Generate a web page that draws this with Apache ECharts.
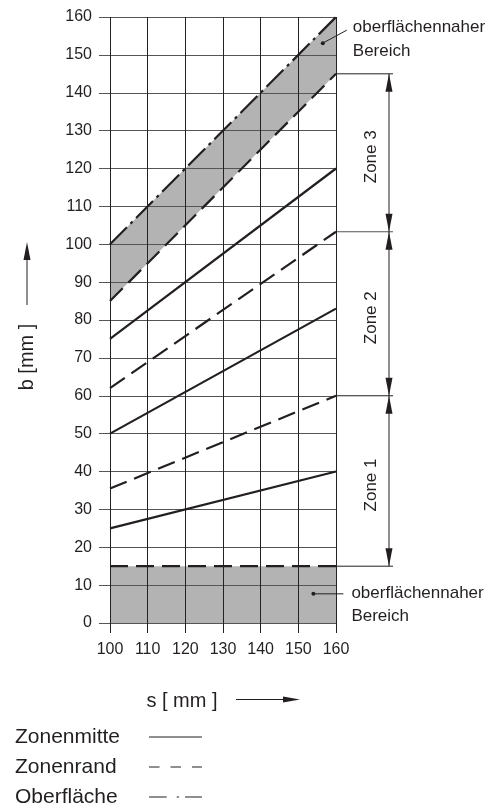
<!DOCTYPE html>
<html><head><meta charset="utf-8">
<script src="https://cdn.jsdelivr.net/npm/echarts@6/dist/echarts.min.js"></script>
<style>html,body{margin:0;padding:0;background:#fff}#c{width:496px;height:809px}</style>
</head><body><div id="c"></div>
<script>
// ---- data ----
const sRange = [100, 160];                 // s [mm]
const bRange = [0, 160];                   // b [mm]
const xTicks = [100, 110, 120, 130, 140, 150, 160];
const yTicks = [0, 10, 20, 30, 40, 50, 60, 70, 80, 90, 100, 110, 120, 130, 140, 150, 160];
// b at s=100 and s=160
const zonenmitte = [[25, 40], [50, 83], [75, 120]];
const zonenrand = [[35.5, 60], [62, 103.3], [85, 145]];
const oberflaeche = [100, 160];
const surfaceLevel = [15, 15];
const zoneBounds = [145, 103.3, 60, 15];
const zoneNames = ['Zone 3', 'Zone 2', 'Zone 1'];
const annoText = 'oberflächennaher\nBereich';
const annoPoints = [[156.5, 153.1], [154, 7.7]];
const legendNames = ['Zonenmitte', 'Zonenrand', 'Oberfläche'];
const yTitle = 'b [mm ]';
const xTitle = 's [ mm ]';

const FONT = "'Liberation Sans', Arial, sans-serif";
const INK = '#231f20';
const GRAY = '#b3b3b3';

const chart = echarts.init(document.getElementById('c'), null, {renderer: 'canvas'});

function seg(vals) { return [[sRange[0], vals[0]], [sRange[1], vals[1]]]; }
function lineSeries(vals, type, w) {
  return {
    type: 'line', data: seg(vals), symbol: 'none', silent: true, z: 3,
    lineStyle: {color: INK, width: w || 2.2, type: type}, animation: false
  };
}

const series = [
  {
    type: 'custom', z: 0, silent: true, animation: false,
    data: [[sRange[0], bRange[0]]],
    renderItem: function (params, api) {
      const band = [[sRange[0], oberflaeche[0]], [sRange[1], oberflaeche[1]],
                    [sRange[1], zonenrand[2][1]], [sRange[0], zonenrand[2][0]]].map(p => api.coord(p));
      const bottom = [[sRange[0], bRange[0]], [sRange[1], bRange[0]],
                      [sRange[1], surfaceLevel[1]], [sRange[0], surfaceLevel[0]]].map(p => api.coord(p));
      return {type: 'group', children: [
        {type: 'polygon', shape: {points: band}, style: {fill: GRAY}},
        {type: 'polygon', shape: {points: bottom}, style: {fill: GRAY}}
      ]};
    }
  }
];
zonenmitte.forEach(v => series.push(lineSeries(v, 'solid')));
zonenrand.forEach(v => series.push(lineSeries(v, [18, 8])));
series.push(lineSeries(surfaceLevel, [18, 8]));
series.push(lineSeries(oberflaeche, [24, 5, 3, 5]));

chart.setOption({
  animation: false,
  grid: {left: 110, top: 17, width: 226, height: 606},
  xAxis: {
    type: 'value', min: sRange[0], max: sRange[1], interval: 10, z: 1,
    axisLine: {show: false},
    axisTick: {show: true, length: 10, lineStyle: {color: '#222', width: 1}},
    axisLabel: {margin: 19, fontSize: 16, color: INK, fontFamily: FONT,
      formatter: v => xTicks.includes(v) ? String(v) : ''},
    splitLine: {show: true, lineStyle: {color: '#222', width: 1}}
  },
  yAxis: {
    type: 'value', min: bRange[0], max: bRange[1], interval: 10, z: 1,
    axisLine: {show: false},
    axisTick: {show: true, length: 11, lineStyle: {color: '#555', width: 1}},
    axisLabel: {margin: 18, fontSize: 16, color: INK, fontFamily: FONT,
      formatter: v => yTicks.includes(v) ? String(v) : ''},
    splitLine: {show: true, lineStyle: {color: '#555', width: 1}}
  },
  series: series
});

// ---- annotations placed through the chart's scales ----
const px = p => chart.convertToPixel({gridIndex: 0}, p);
const g = [];
const xRight = px([sRange[1], 0])[0];
const arrowX = xRight + 53;
const txt = (text, x, y, size, extra) => Object.assign({
  type: 'text', x: x, y: y, silent: true,
  style: Object.assign({text: text, fill: INK, font: size + 'px ' + FONT,
    align: 'left', verticalAlign: 'middle'}, extra || {})
}, {});
function arrowHead(tx, ty, dx, dy, len, wid) {
  // tip at (tx,ty), pointing in direction (dx,dy)
  const bx = tx - dx * len, by = ty - dy * len;
  const nx = -dy, ny = dx;
  return {type: 'polygon', silent: true, shape: {points: [[tx, ty], [bx + nx * wid / 2, by + ny * wid / 2], [bx - nx * wid / 2, by - ny * wid / 2]]},
    style: {fill: INK}};
}

zoneBounds.forEach((b, i) => {
  const y = px([sRange[1], b])[1];
  g.push({type: 'line', silent: true, shape: {x1: xRight, y1: y, x2: xRight + 57, y2: y},
    style: {stroke: i === 1 ? '#555' : INK, lineWidth: 1}});
});
zoneNames.forEach((name, i) => {
  const y1 = px([sRange[1], zoneBounds[i]])[1];
  const y2 = px([sRange[1], zoneBounds[i + 1]])[1];
  g.push({type: 'line', silent: true, shape: {x1: arrowX, y1: y1, x2: arrowX, y2: y2},
    style: {stroke: INK, lineWidth: 1}});
  g.push(arrowHead(arrowX, y1, 0, -1, 18, 7));
  g.push(arrowHead(arrowX, y2, 0, 1, 18, 7));
  g.push({type: 'text', silent: true, x: arrowX - 18, y: (y1 + y2) / 2 + 4, rotation: Math.PI / 2,
    style: {text: name, fill: INK, font: '17px ' + FONT, align: 'center', verticalAlign: 'middle'}});
});

// top annotation
(function () {
  const d = px(annoPoints[0]);
  g.push({type: 'circle', silent: true, shape: {cx: d[0], cy: d[1], r: 2}, style: {fill: INK}});
  g.push({type: 'line', silent: true, shape: {x1: d[0], y1: d[1], x2: d[0] + 24, y2: d[1] - 13},
    style: {stroke: INK, lineWidth: 1}});
  g.push(txt(annoText, d[0] + 30, d[1] - 4, 17, {lineHeight: 24}));
  const e = px(annoPoints[1]);
  g.push({type: 'circle', silent: true, shape: {cx: e[0], cy: e[1], r: 2}, style: {fill: INK}});
  g.push({type: 'line', silent: true, shape: {x1: e[0], y1: e[1], x2: e[0] + 30, y2: e[1]},
    style: {stroke: INK, lineWidth: 1}});
  g.push(txt(annoText, e[0] + 38, e[1] + 11, 17, {lineHeight: 23}));
})();

// axis titles
g.push({type: 'text', silent: true, x: 27, y: 357, rotation: Math.PI / 2,
  style: {text: yTitle, fill: INK, font: '20px ' + FONT, align: 'center', verticalAlign: 'middle'}});
g.push({type: 'line', silent: true, shape: {x1: 27, y1: 305, x2: 27, y2: 258}, style: {stroke: INK, lineWidth: 1}});
g.push(arrowHead(27, 242, 0, -1, 18, 7));
g.push({type: 'text', silent: true, x: 182, y: 701,
  style: {text: xTitle, fill: INK, font: '20px ' + FONT, align: 'center', verticalAlign: 'middle'}});
g.push({type: 'line', silent: true, shape: {x1: 236, y1: 699.5, x2: 285, y2: 699.5}, style: {stroke: INK, lineWidth: 1}});
g.push(arrowHead(300, 699.5, 1, 0, 17, 6));

// legend
const legDash = ['solid', [10.5, 11], [17.7, 10, 2.3, 6, 30]];
legendNames.forEach((n, i) => {
  const y = 737 + i * 30;
  g.push(txt(n, 15, y, 21));
  g.push({type: 'line', silent: true, shape: {x1: 149, y1: y, x2: 202, y2: y},
    style: {stroke: INK, lineWidth: 1.2, lineDash: legDash[i] === 'solid' ? null : legDash[i]}});
});

chart.setOption({graphic: {elements: g}});
</script>
</body></html>
